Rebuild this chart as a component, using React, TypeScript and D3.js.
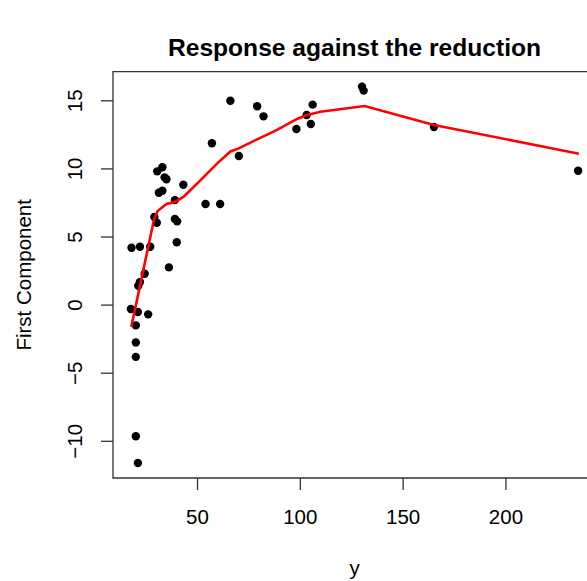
import * as d3 from "d3";

// observed points (y = response, comp = first component)
const yVals = [
  32.9, 30.4, 34.0, 34.9, 43.1, 31.2, 32.9, 39.0, 53.9, 61.0,
  29.0, 30.2, 39.0, 40.1, 39.9, 17.9, 22.0, 27.0, 36.1, 24.3,
  22.0, 21.2, 17.6, 21.0, 26.0, 20.0, 20.0, 20.0, 20.0, 21.0,
  57.0, 66.0, 70.1, 79.0, 82.1, 98.1, 103.1, 106.0, 105.1, 130.0,
  130.8, 165.0, 235.1,
];
const compVals = [
  10.12, 9.82, 9.38, 9.24, 8.84, 8.25, 8.40, 7.71, 7.42, 7.42,
  6.47, 6.05, 6.32, 6.15, 4.61, 4.21, 4.28, 4.28, 2.77, 2.30,
  1.69, 1.42, -0.29, -0.51, -0.68, -1.49, -2.74, -3.80, -9.63, -11.59,
  11.88, 15.01, 10.95, 14.60, 13.86, 12.93, 13.96, 14.72, 13.30, 16.04,
  15.75, 13.08, 9.87,
];

// fitted curve (red)
const fitX = [17.8, 28.9, 30.6, 34.9, 39.3, 43.3, 51.5, 59.6, 66.0, 70.1, 79.0, 88.7, 98.4, 103.3, 109.8, 131.3, 165.0, 235.5];
const fitY = [-1.6, 6.32, 6.91, 7.42, 7.59, 7.96, 9.18, 10.41, 11.28, 11.51, 12.17, 12.86, 13.67, 13.96, 14.2, 14.62, 13.23, 11.12];

const xTicks = [50, 100, 150, 200];
const yTicks = [-10, -5, 0, 5, 10, 15];

const W = 587, H = 581;
const left = 113, right = 596, top = 71.6, bottom = 478;
const font = "'Liberation Sans', Arial, Helvetica, sans-serif";
const fs = 20.5;

function padded(vals: number[]): [number, number] {
  const [a, b] = d3.extent(vals) as [number, number];
  const p = (b - a) * 0.04;
  return [a - p, b + p];
}

export default function App() {
  const x = d3.scaleLinear().domain(padded(yVals)).range([left, right]);
  const y = d3.scaleLinear().domain(padded(compVals)).range([bottom, top]);
  const line = d3.line<number>().x((_, i) => x(fitX[i])).y(d => y(d));
  const axisColor = "#333";

  return (
    <svg width={W} height={H} style={{ position: "absolute", left: 0, top: 0, background: "#fff" }} fontFamily={font}>
      <text x={(left + right) / 2} y={56} textAnchor="middle" fontSize={24.6} fontWeight="bold">
        Response against the reduction
      </text>
      {/* box */}
      <path d={`M${right},${top}H${left}V${bottom}H${right}`} fill="none" stroke={axisColor} strokeWidth={1.3} />
      {/* x axis */}
      {xTicks.map(t => (
        <g key={t}>
          <line x1={x(t)} x2={x(t)} y1={bottom} y2={bottom + 12} stroke={axisColor} strokeWidth={1.3} />
          <text x={x(t)} y={524} textAnchor="middle" fontSize={fs}>{t}</text>
        </g>
      ))}
      {/* y axis */}
      {yTicks.map(t => (
        <g key={t}>
          <line x1={left} x2={left - 12} y1={y(t)} y2={y(t)} stroke={axisColor} strokeWidth={1.3} />
          <text transform={`translate(82,${y(t)}) rotate(-90)`} textAnchor="middle" fontSize={fs}>
            {t < 0 ? "\u2212" + Math.abs(t) : t}
          </text>
        </g>
      ))}
      <text x={(left + right) / 2} y={575} textAnchor="middle" fontSize={fs}>y</text>
      <text transform={`translate(31,${(top + bottom) / 2}) rotate(-90)`} textAnchor="middle" fontSize={fs}>
        First Component
      </text>
      {/* points */}
      {yVals.map((v, i) => (
        <circle key={i} cx={x(v)} cy={y(compVals[i])} r={4.2} fill="#000" />
      ))}
      {/* fit */}
      <path d={line(fitY) || ""} fill="none" stroke="#ff0000" strokeWidth={2.6} />
    </svg>
  );
}
